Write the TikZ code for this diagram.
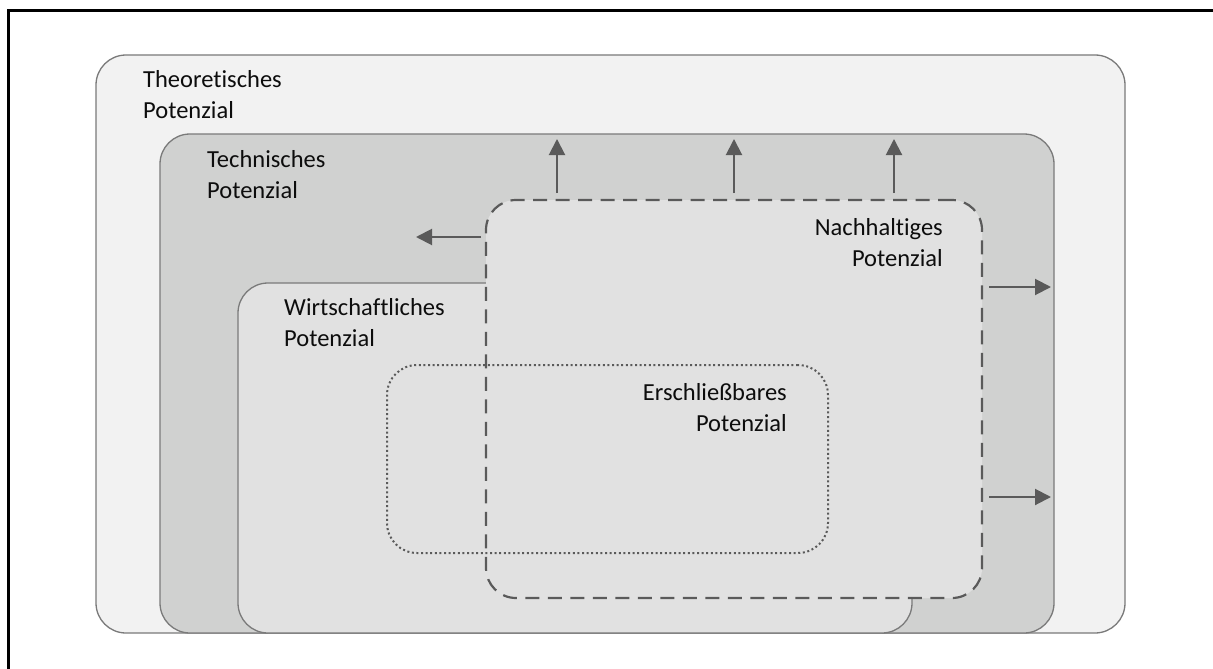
\documentclass[tikz,border=0pt]{standalone}
\usepackage{fontspec}
\setmainfont{Carlito}[Ligatures=NoCommon]
\usetikzlibrary{arrows.meta}
\definecolor{theofill}{HTML}{F2F2F2}
\definecolor{techfill}{HTML}{D0D1D0}
\definecolor{wirtfill}{HTML}{E1E1E1}
\definecolor{edge}{HTML}{7A7A7A}
\definecolor{dark}{HTML}{5A5A5A}
\definecolor{ink}{HTML}{0D0D0D}
\tikzset{
  potbox/.style={draw=edge, line width=1.3pt, rounded corners=30pt,
    inner sep=0pt, outer sep=0pt},
  dashbox/.style={draw=dark, line width=2.2pt, dash pattern=on 14pt off 8.5pt,
    rounded corners=30pt, inner sep=0pt, outer sep=0pt},
  dotbox/.style={draw=dark, line width=2pt, dash pattern=on 2pt off 2.6pt,
    rounded corners=30pt, inner sep=0pt, outer sep=0pt},
  label/.style={font=\fontsize{24.5}{31}\selectfont, text=ink, inner sep=0pt},
  push/.style={draw=dark, line width=2pt, -{Triangle[length=16pt, width=16pt]}}
}
\begin{document}
\begin{tikzpicture}[x=1pt, y=-1pt]
  \clip (0,0) rectangle (1213,669);
  \fill[white] (0,0) rectangle (1213,669);
  % outer frame
  \draw[line width=3pt] (8,700) -- (8,11) -- (1240,11);

  % nested potential areas
  \node[potbox, fill=theofill, minimum width=1029pt, minimum height=578pt] (theo) at (610.5,344) {};
  \node[potbox, fill=techfill, minimum width=894pt, minimum height=499pt] (tech) at (607,383.5) {};
  \node[potbox, fill=wirtfill, minimum width=674pt, minimum height=350pt] (wirt) at (575,458) {};
  \node[dashbox, fill=wirtfill, minimum width=496pt, minimum height=398pt] (nach) at (734,399) {};
  \node[dotbox, minimum width=441pt, minimum height=188pt] (ersch) at (607.5,459) {};

  % labels
  \node[label, anchor=north west, align=left] (ltheo) at (143,70) {Theoretisches\\Potenzial};
  \node[label, anchor=north west, align=left] (ltech) at (207,150) {Technisches\\Potenzial};
  \node[label, anchor=north west, align=left] (lwirt) at (284,298) {Wirtschaftliches\\Potenzial};
  \node[label, anchor=north east, align=right] (lnach) at (943,218) {Nachhaltiges\\Potenzial};
  \node[label, anchor=north east, align=right] (lersch) at (787,383) {Erschließbares\\Potenzial};

  % expansion arrows of the sustainable potential
  \coordinate (a1s) at (481,237); \coordinate (a1e) at (416,237);
  \coordinate (a2s) at (557,193); \coordinate (a2e) at (557,139);
  \coordinate (a3s) at (734,193); \coordinate (a3e) at (734,139);
  \coordinate (a4s) at (894,193); \coordinate (a4e) at (894,139);
  \coordinate (a5s) at (989,287); \coordinate (a5e) at (1051,287);
  \coordinate (a6s) at (989,497); \coordinate (a6e) at (1051,497);
  \draw[push] (a1s) -- (a1e);
  \draw[push] (a2s) -- (a2e);
  \draw[push] (a3s) -- (a3e);
  \draw[push] (a4s) -- (a4e);
  \draw[push] (a5s) -- (a5e);
  \draw[push] (a6s) -- (a6e);
\end{tikzpicture}
\end{document}
